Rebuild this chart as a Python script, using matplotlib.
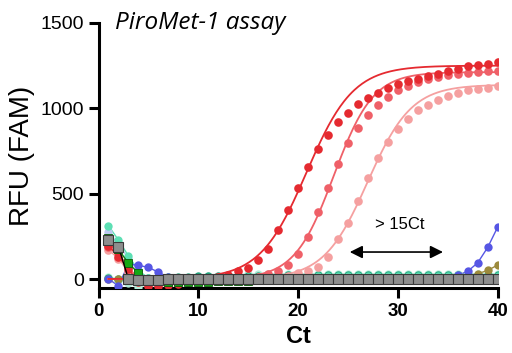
import numpy as np
import matplotlib
matplotlib.use("Agg")
import matplotlib.pyplot as plt

cycles = np.arange(1, 41)

# amplified series
red_hi = [195, 130, 60, -20, -40, -40, -38, -30, -20, -10, 0, 10, 23, 45, 66, 111, 175, 285, 405, 536,
          657, 760, 846, 918, 975, 1023, 1060, 1089, 1119, 1140, 1158, 1174, 1189, 1203, 1216, 1230, 1246, 1254, 1261, 1271]
red_mid = [185, 150, 70, 0, -10, -8, -5, 0, 0, 2, 3, 4, 5, 5, 5, 12, 31, 49, 84, 146,
           244, 390, 536, 676, 795, 887, 963, 1021, 1066, 1105, 1132, 1154, 1171, 1183, 1195, 1203, 1209, 1215, 1216, 1218]
red_low = [170, 120, 40, 0, -5, -5, 0, 0, 0, 0, 2, 3, 5, 5, 5, 6, 8, 10, 20, 35,
           49, 72, 127, 232, 326, 456, 592, 706, 800, 877, 940, 988, 1021, 1051, 1072, 1092, 1105, 1115, 1121, 1129]
# Boltzmann fit parameters: bottom, top, V50, slope
fit_hi = [0, 1250, 20.85, 2.34]
fit_mid = [0, 1212, 23.58, 1.97]
fit_low = [0, 1138, 26.97, 2.2]

# baseline / late series
mint = [312, 228, 135, 50, 5, 2, 0, 2, 3, 5, 5, 6, 8, 8, 10, 10, 12, 12, 14, 14,
        15, 15, 16, 16, 17, 17, 18, 18, 18, 18, 18, 18, 18, 18, 18, 18, 18, 18, 18, 18]
mint_light = [13, -5, -25, -45, -30, -20, -10, 0, 5, 10, 15, 20, 22, 25, 28, 30, 30, 30, 30, 30,
              30, 30, 30, 30, 30, 30, 30, 30, 30, 30, 30, 30, 30, 30, 30, 30, 30, 30, 30, 30]
lavender = [273, 203, 120, 40, 0, -2, -2, 0, 0, 0, 0, 0, 0, 0, 0, 0, 0, 0, 0, 0,
            0, 0, 0, 0, 0, 0, 0, 0, 0, 0, 0, 0, 0, 0, 0, 0, 0, 0, 0, 0]
green = [240, 174, 92, 35, -5, -12, -15, -16, -16, -16, -15, -14, -12, -10, -10, -8, -8, -6, -6, -5,
         -5, -4, -4, -4, -3, -3, -3, -2, -2, -2, -2, -2, -2, -2, -2, -2, -2, -2, -2, -2]
teal = [5, 0, -5, 0, 5, 8, 10, 12, 14, 15, 16, 17, 18, 19, 20, 20, 21, 21, 22, 22,
        22, 22, 22, 22, 22, 22, 22, 22, 22, 22, 22, 22, 22, 22, 22, 22, 22, 22, 22, 22]
blue = [0, -40, 88, 80, 68, 40, 10, 2, 0, 0, 0, 0, 0, 0, 0, 0, 0, 0, 0, 0,
        0, 0, 0, 0, 0, 0, 0, 0, 0, 0, 0, 0, 0, 2, 8, 22, 45, 95, 185, 304]
olive = [0, 0, 0, 0, 0, 0, 0, 0, 0, 0, 0, 0, 0, 0, 0, 0, 0, 0, 0, 0,
         0, 0, 0, 0, 0, 0, 0, 0, 0, 0, 0, 2, 3, 5, 6, 8, 18, 31, 50, 82]
gray = [228, 189, 0, -5, -5, -3, 0, 0, 0, 0, 0, 0, 0, 0, 0, 0, 0, 0, 0, 0,
        0, 0, 0, 0, 0, 0, 0, 0, 0, 0, 0, 0, 0, 0, 0, 0, 0, 0, 0, 0]

fig = plt.figure(figsize=(5.12, 3.53), dpi=100)
ax = fig.add_axes([0.1924, 0.184, 0.7796, 0.751])

def boltz(x, p):
    return p[0] + (p[1] - p[0]) / (1 + np.exp((p[2] - x) / p[3]))

xs = np.linspace(1, 40, 300)

# baseline series: dots joined by thin lines
base = [(mint_light, '#b4eedb', 'o'), (teal, '#21a27c', 'o'), (lavender, '#bcc8f0', 'o'),
        (mint, '#5ddfb4', 'o'), (olive, '#9c8a3c', 'o'), (blue, '#5656e4', 'o')]
for vals, c, m in base:
    ax.plot(cycles, vals, '-', color=c, lw=1.0, zorder=2)
    ax.plot(cycles, vals, m, color=c, ms=6, mec='none', zorder=3)

ax.plot(cycles, green, '-', color='#107a10', lw=1.0, zorder=4)
ax.plot(cycles, green, 's', color='#15a815', ms=6.2, mec='#0a5a0a', mew=0.6, zorder=4)

for vals, p, c in [(red_low, fit_low, '#f5a0a0'), (red_mid, fit_mid, '#ef6068'), (red_hi, fit_hi, '#e52a30')]:
    ax.plot(cycles[:4], vals[:4], '-', color=c, lw=1.0, zorder=3)
    ax.plot(xs, boltz(xs, p), '-', color=c, lw=1.3, zorder=3)
    ax.plot(cycles, vals, 'o', color=c, ms=6.2, mec='none', zorder=3)

ax.plot(cycles, gray, '-', color='black', lw=1.0, zorder=5)
ax.plot(cycles, gray, 's', color='#8e8e8e', ms=6.5, mec='#3a3a3a', mew=0.8, zorder=5)

# annotation arrow
ax.annotate('', xy=(24.9, 158), xytext=(34.8, 158),
            arrowprops=dict(arrowstyle='<|-|>', color='black', lw=1.2, mutation_scale=19))
ax.text(30.2, 318, '> 15Ct', ha='center', va='center', fontsize=12, family='Liberation Sans')

ax.text(0.042, 1.0, 'PiroMet-1 assay', transform=ax.transAxes, fontsize=17.5, style='italic',
        family='Open Sans', va='center', ha='left')

ax.set_xlim(0, 40)
ax.set_ylim(-53, 1500)
ax.set_xticks([0, 10, 20, 30, 40])
ax.set_yticks([0, 500, 1000, 1500])
for s in ['top', 'right']:
    ax.spines[s].set_visible(False)
for s in ['left', 'bottom']:
    ax.spines[s].set_linewidth(2.2)
ax.tick_params(width=2.2, length=7)
for lab in ax.get_xticklabels():
    lab.set_fontweight('bold')
    lab.set_fontsize(13.5)
    lab.set_family('Liberation Sans')
for lab in ax.get_yticklabels():
    lab.set_fontsize(14)
    lab.set_family('Liberation Sans')
ax.set_xlabel('Ct', fontsize=17, fontweight='bold', family='Liberation Sans', labelpad=4)
ax.set_ylabel('RFU (FAM)', fontsize=20, family='Liberation Sans', labelpad=4)

fig.savefig('out.png', dpi=100)
